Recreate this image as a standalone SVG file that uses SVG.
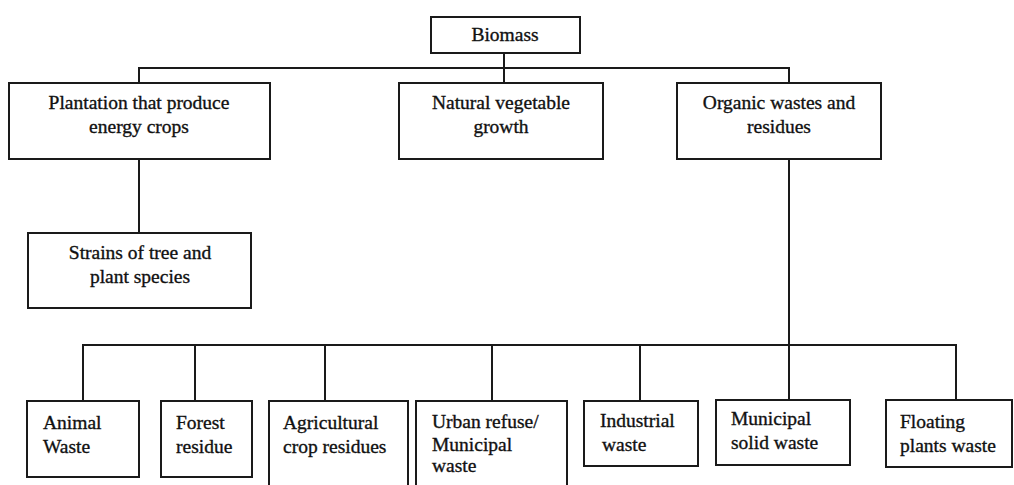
<svg xmlns="http://www.w3.org/2000/svg" width="1014" height="485" viewBox="0 0 1014 485">
<style>
.box{fill:#fff;stroke:#1a1a1a;stroke-width:2}
.ln{fill:none;stroke:#1a1a1a;stroke-width:2}
text{font-family:"Liberation Serif","Times New Roman",serif;font-size:19.5px;fill:#111;stroke:#111;stroke-width:0.35}
.c{text-anchor:middle}
</style>
<rect width="1014" height="485" fill="#fff"/>
<g id="connectors">
<path class="ln" d="M504,53 V83 M139,83 V68 H789 V83 M139,159 V233 M789,159 V345 M83,401 V345 H956 V400 M195,345 V401 M325,345 V401 M492,345 V401 M640,345 V401 M789,345 V400"/>
</g>
<g id="biomass"><rect class="box" x="431" y="17" width="149" height="36"/><text class="c" x="505" y="41">Biomass</text></g>
<g id="plantation"><rect class="box" x="9" y="83" width="261" height="76"/><text class="c" x="139" y="109">Plantation that produce</text><text class="c" x="139" y="133">energy crops</text></g>
<g id="natural"><rect class="box" x="399" y="83" width="204" height="76"/><text class="c" x="501" y="109">Natural vegetable</text><text class="c" x="501" y="133">growth</text></g>
<g id="organic"><rect class="box" x="677" y="83" width="204" height="76"/><text class="c" x="779" y="109">Organic wastes and</text><text class="c" x="779" y="133">residues</text></g>
<g id="strains"><rect class="box" x="28" y="233" width="223" height="75"/><text class="c" x="140" y="259">Strains of tree and</text><text class="c" x="140" y="283">plant species</text></g>
<g id="animal"><rect class="box" x="27" y="401" width="112" height="76"/><text x="43" y="429">Animal</text><text x="43" y="453">Waste</text></g>
<g id="forest"><rect class="box" x="161" y="401" width="91" height="76"/><text x="176" y="429">Forest</text><text x="176" y="453">residue</text></g>
<g id="agricultural"><rect class="box" x="269" y="401" width="139" height="90"/><text x="283" y="429">Agricultural</text><text x="283" y="453">crop residues</text></g>
<g id="urban"><rect class="box" x="416" y="401" width="151" height="90"/><text x="432" y="428">Urban refuse/</text><text x="432" y="451">Municipal</text><text x="432" y="472">waste</text></g>
<g id="industrial"><rect class="box" x="584" y="401" width="114" height="65"/><text x="600" y="427">Industrial</text><text x="602" y="451">waste</text></g>
<g id="municipal"><rect class="box" x="716" y="400" width="134" height="65"/><text x="731" y="425">Municipal</text><text x="731" y="449">solid waste</text></g>
<g id="floating"><rect class="box" x="886" y="400" width="126" height="67"/><text x="900" y="428">Floating</text><text x="900" y="452">plants waste</text></g>
</svg>
